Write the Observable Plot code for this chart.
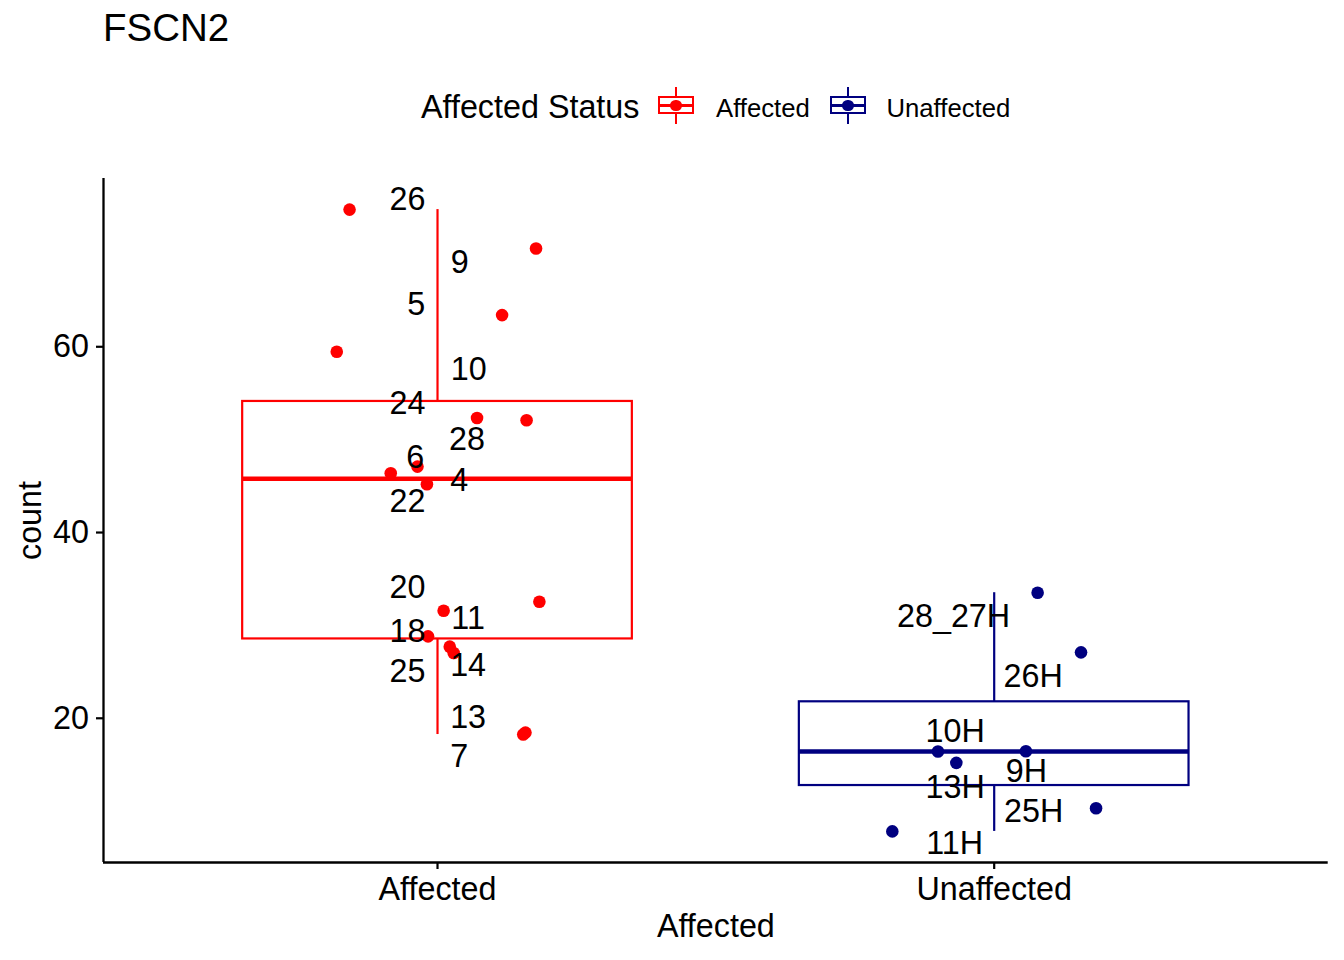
<!DOCTYPE html>
<html>
<head>
<meta charset="utf-8">
<script src="https://cdn.jsdelivr.net/npm/d3@7"></script>
<script src="https://cdn.jsdelivr.net/npm/@observablehq/plot@0.6"></script>
<style>
  body { margin: 0; background: #fff; font-family: "Liberation Sans", Arial, Helvetica, sans-serif; }
  #wrap { position: relative; width: 1344px; height: 960px; overflow: hidden; background: #fff; }
  #header { position: relative; width: 1344px; height: 140px; }
  .t { position: absolute; line-height: 1; white-space: nowrap; color: #000; }
  .k { position: absolute; box-sizing: border-box; }
  #chart svg { display: block; }
</style>
</head>
<body>
<div id="wrap">
  <div id="header"></div>
  <div id="chart"></div>
</div>
<script>
// ---------- data ----------
const groups = ["Affected", "Unaffected"];
const groupColors = ["#FF0000", "#000080"];
const titleText = "FSCN2";
const legendTitle = "Affected Status";
const xTitle = "Affected";
const yTitle = "count";
const yTicks = [20, 40, 60];

const affectedIds     = ["26", "9", "5", "10", "24", "28", "6", "4", "22", "20", "11", "18", "14", "25", "13", "7"];
const affectedCounts  = [74.77, 70.58, 63.41, 59.46, 52.33, 52.09, 47.10, 46.39, 45.20, 32.55, 31.58, 28.82, 27.71, 27.03, 18.46, 18.25];
const affectedJitter  = [-0.158, 0.177, 0.116, -0.181, 0.071, 0.160, -0.036, -0.084, -0.019, 0.183, 0.011, -0.017, 0.022, 0.029, 0.158, 0.154];
const affectedLabelY  = [75.85, 69.11, 64.56, 57.49, 53.87, 50.04, 48.06, 45.63, 43.33, 34.09, 30.69, 29.32, 25.67, 25.05, 20.11, 15.88];
const affectedLabelDx = [-0.054, 0.040, -0.038, 0.056, -0.054, 0.053, -0.040, 0.039, -0.054, -0.054, 0.055, -0.054, 0.055, -0.054, 0.055, 0.039];

const unaffectedIds     = ["28_27H", "26H", "10H", "9H", "13H", "25H", "11H"];
const unaffectedCounts  = [33.52, 27.10, 16.45, 16.42, 15.20, 10.32, 7.82];
const unaffectedJitter  = [0.078, 0.156, 0.057, -0.101, -0.068, 0.183, -0.183];
const unaffectedLabelY  = [30.94, 24.49, 18.60, 14.30, 12.52, 10.00, 6.49];
const unaffectedLabelDx = [-0.073, 0.070, -0.070, 0.058, -0.070, 0.071, -0.071];

// ---------- build tables ----------
function rows(group, pos, ids, counts, jitter, ly, ldx) {
  return ids.map((id, i) => ({
    group, id, count: counts[i],
    x: pos + jitter[i],
    lx: pos + ldx[i],
    ly: ly[i]
  }));
}
const points = [
  ...rows(groups[0], 1, affectedIds, affectedCounts, affectedJitter, affectedLabelY, affectedLabelDx),
  ...rows(groups[1], 2, unaffectedIds, unaffectedCounts, unaffectedJitter, unaffectedLabelY, unaffectedLabelDx)
];

const boxWidth = 0.7;
const stats = groups.map((g, i) => {
  const v = points.filter(d => d.group === g).map(d => d.count).sort(d3.ascending);
  const q1 = d3.quantile(v, 0.25), med = d3.quantile(v, 0.5), q3 = d3.quantile(v, 0.75);
  const iqr = q3 - q1;
  const lo = d3.min(v.filter(x => x >= q1 - 1.5 * iqr));
  const hi = d3.max(v.filter(x => x <= q3 + 1.5 * iqr));
  return { group: g, pos: i + 1, q1, med, q3, lo, hi };
});

const ext = d3.extent(points, d => d.count);
const pad = 0.05 * (ext[1] - ext[0]);
const yDomain = [ext[0] - pad, ext[1] + pad];
const xDomain = [0.4, 2.6];

const FS = 32.3;

// ---------- header (title + legend) ----------
const header = document.getElementById("header");
function addText(txt, left, top, size) {
  const s = document.createElement("div");
  s.className = "t";
  s.textContent = txt;
  s.style.left = left + "px";
  s.style.top = top + "px";
  s.style.fontSize = size + "px";
  header.appendChild(s);
}
function addDiv(css) {
  const d = document.createElement("div");
  d.className = "k";
  Object.assign(d.style, css);
  header.appendChild(d);
}
function addKey(cx, color) {
  const cy = 105.3;
  addDiv({ left: (cx - 1.1) + "px", top: "86.7px", width: "2.2px", height: "37.6px", background: color });
  addDiv({ left: (cx - 17.85) + "px", top: "96px", width: "35.7px", height: "18.3px", border: "2.2px solid " + color, background: "#fff" });
  addDiv({ left: (cx - 17.85) + "px", top: (cy - 1.5) + "px", width: "35.7px", height: "3px", background: color });
  addDiv({ left: (cx - 5.8) + "px", top: (cy - 5.8) + "px", width: "11.6px", height: "11.6px", borderRadius: "50%", background: color });
}
addText(titleText, 103, 9.1, 38.5);
addText(legendTitle, 421, 91, FS);
addKey(676, groupColors[0]);
addText(groups[0], 716, 95.5, 25.7);
addKey(848, groupColors[1]);
addText(groups[1], 886.5, 95.5, 25.7);

// ---------- chart ----------
const chart = Plot.plot({
  width: 1344,
  height: 820,
  marginTop: 38,
  marginBottom: 98,
  marginLeft: 103,
  marginRight: 16.3,
  style: { fontFamily: "Liberation Sans, Arial, Helvetica, sans-serif", background: "#fff", color: "#000" },
  x: { type: "linear", domain: xDomain },
  y: { type: "linear", domain: yDomain },
  color: { domain: groups, range: groupColors },
  marks: [
    // boxplot
    Plot.rect(stats, {
      x1: d => d.pos - boxWidth / 2, x2: d => d.pos + boxWidth / 2,
      y1: "q1", y2: "q3", fill: "#fff", stroke: "group", strokeWidth: 2.2
    }),
    Plot.ruleX(stats, { x: "pos", y1: "q3", y2: "hi", stroke: "group", strokeWidth: 2.2 }),
    Plot.ruleX(stats, { x: "pos", y1: "lo", y2: "q1", stroke: "group", strokeWidth: 2.2 }),
    Plot.ruleY(stats, {
      y: "med", x1: d => d.pos - boxWidth / 2, x2: d => d.pos + boxWidth / 2,
      stroke: "group", strokeWidth: 4.6
    }),
    // jittered points
    Plot.dot(points, { x: "x", y: "count", fill: "group", r: 6.3 }),
    // repelled labels
    Plot.text(points, { x: "lx", y: "ly", text: "id", fontSize: FS, fill: "#000" }),
    // axes
    Plot.axisX({
      ticks: [1, 2], tickFormat: d => groups[d - 1], tickSize: 7, tickPadding: 8,
      fontSize: FS, label: null, color: "#000", strokeWidth: 2.2
    }),
    Plot.axisY({
      ticks: yTicks, tickSize: 7, tickPadding: 7.5,
      fontSize: FS, label: null, color: "#000", strokeWidth: 2.2
    }),
    Plot.ruleX([xDomain[0]], { x: d => d, y1: yDomain[0], y2: yDomain[1], stroke: "#000", strokeWidth: 2.3 }),
    Plot.ruleY([yDomain[0]], { y: d => d, x1: xDomain[0], x2: xDomain[1], stroke: "#000", strokeWidth: 2.3 }),
    // axis titles
    Plot.text([xTitle], { frameAnchor: "bottom", dy: 74.7, lineAnchor: "bottom", textAnchor: "middle", fontSize: FS, fill: "#000" }),
    Plot.text([yTitle], { frameAnchor: "left", dx: -73, rotate: -90, textAnchor: "middle", lineAnchor: "middle", fontSize: FS, fill: "#000" })
  ]
});
document.getElementById("chart").appendChild(chart);
</script>
</body>
</html>
